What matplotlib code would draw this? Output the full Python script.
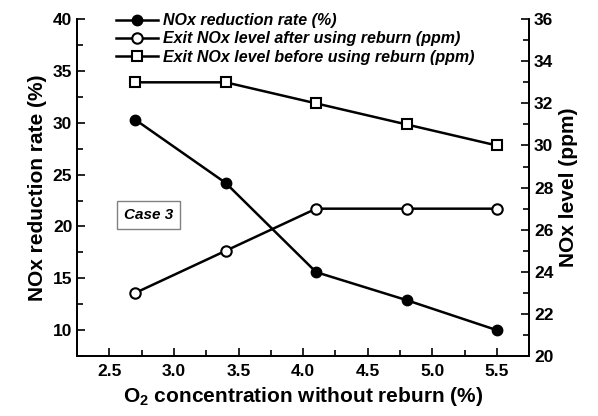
import matplotlib
matplotlib.use('Agg')
import matplotlib.pyplot as plt
from matplotlib.ticker import MultipleLocator

plt.rcParams['font.family'] = ['Liberation Sans', 'DejaVu Sans']
plt.rcParams['font.weight'] = 'bold'
plt.rcParams['mathtext.fontset'] = 'custom'
plt.rcParams['mathtext.rm'] = 'Liberation Sans:bold'
plt.rcParams['mathtext.bf'] = 'Liberation Sans:bold'

# data
o2 = [2.7, 3.4, 4.1, 4.8, 5.5]
reduction_rate = [30.3, 24.2, 15.6, 12.9, 10.0]
nox_after = [23, 25, 27, 27, 27]
nox_before = [33, 33, 32, 31, 30]

fig = plt.figure(figsize=(5.98, 4.16), dpi=100)
ax = fig.add_axes([0.129, 0.144, 0.756, 0.81])
ax2 = ax.twinx()

l1, = ax.plot(o2, reduction_rate, '-o', color='black', lw=1.8, ms=7.5,
              mfc='black', mec='black')
l2, = ax2.plot(o2, nox_after, '-o', color='black', lw=1.8, ms=7.5,
               mfc='white', mec='black', mew=1.5)
l3, = ax2.plot(o2, nox_before, '-s', color='black', lw=1.8, ms=7,
               mfc='white', mec='black', mew=1.5)

ax.set_xlim(2.25, 5.75)
ax.set_ylim(7.5, 40)
ax2.set_ylim(20, 36)

ax.xaxis.set_major_locator(MultipleLocator(0.5))
ax.xaxis.set_minor_locator(MultipleLocator(0.25))
ax.yaxis.set_major_locator(MultipleLocator(5))
ax.yaxis.set_minor_locator(MultipleLocator(2.5))
ax2.yaxis.set_major_locator(MultipleLocator(2))
ax2.yaxis.set_minor_locator(MultipleLocator(1))

for a in (ax, ax2):
    a.spines['top'].set_visible(False)
    for s in a.spines.values():
        s.set_linewidth(1.3)
    a.tick_params(which='both', direction='in', width=1.2, labelsize=12.5)
    a.tick_params(which='major', length=6)
    a.tick_params(which='minor', length=4)
ax.tick_params(axis='y', right=False, which='both')
ax.tick_params(axis='x', top=False, which='both', pad=6)

ax.set_xlabel('O$_\\mathregular{2}$ concentration without reburn (%)', fontsize=15, fontweight='bold')
ax.set_ylabel('NOx reduction rate (%)', fontsize=15, fontweight='bold')
ax2.set_ylabel('NOx level (ppm)', fontsize=15, fontweight='bold')

leg = ax.legend([l1, l2, l3],
                ['NOx reduction rate (%)',
                 'Exit NOx level after using reburn (ppm)',
                 'Exit NOx level before using reburn (ppm)'],
                loc='upper left', bbox_to_anchor=(0.055, 1.06), frameon=False,
                prop={'style': 'italic', 'weight': 'bold', 'size': 11.5},
                handlelength=2.6, labelspacing=0.2, handletextpad=0.3)

ax.text(2.61, 21.1, 'Case 3', fontsize=11, fontstyle='italic', fontweight='bold',
        va='center',
        bbox=dict(boxstyle='square,pad=0.45', fc='white', ec='gray', lw=1))

fig.savefig('out.png', dpi=100)
